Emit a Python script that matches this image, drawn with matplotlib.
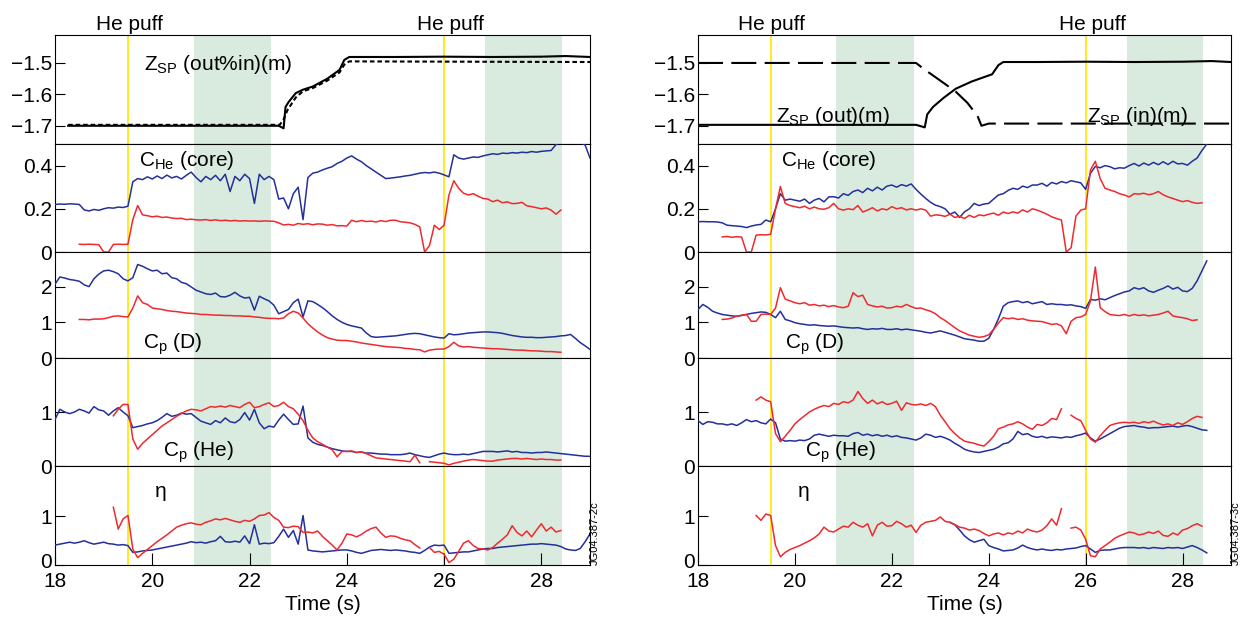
import numpy as np
import matplotlib.pyplot as plt
from matplotlib.transforms import blended_transform_factory, ScaledTranslation

plt.rcParams['font.family'] = ['Liberation Sans', 'DejaVu Sans']
plt.rcParams['mathtext.fontset'] = 'custom'
plt.rcParams['mathtext.rm'] = 'Liberation Sans'
plt.rcParams['axes.linewidth'] = 0.8

nan = float('nan')
STEP = 0.1

# ---------------- strike point positions (top panels) ----------------
zsp_L_solid_t = [18.27, 22.60, 22.70, 22.74, 22.80, 22.95, 23.10, 23.30, 23.60, 23.85, 23.95, 24.05, 25.0, 26.0, 27.0, 28.0, 28.5, 29.0]
zsp_L_solid = [-1.700, -1.700, -1.708, -1.640, -1.625, -1.596, -1.585, -1.575, -1.550, -1.522, -1.490, -1.481, -1.481, -1.480, -1.481, -1.480, -1.478, -1.481]
zsp_L_dot_t = [18.27, 22.62, 22.70, 22.78, 22.95, 23.10, 23.30, 23.60, 23.85, 23.95, 24.05, 29.0]
zsp_L_dot = [-1.697, -1.697, -1.680, -1.650, -1.610, -1.590, -1.580, -1.556, -1.530, -1.505, -1.495, -1.497]

zsp_R_out_t = [18.0, 22.50, 22.68, 22.73, 22.85, 23.07, 23.32, 23.65, 24.07, 24.20, 24.30, 25.0, 26.0, 27.0, 28.0, 28.6, 29.0]
zsp_R_out = [-1.697, -1.697, -1.705, -1.664, -1.640, -1.611, -1.582, -1.559, -1.536, -1.507, -1.497, -1.497, -1.496, -1.497, -1.496, -1.494, -1.497]
zsp_R_in_t = [18.0, 22.50, 22.65, 22.98, 23.31, 23.56, 23.77, 23.85, 24.0, 29.0]
zsp_R_in = [-1.500, -1.500, -1.518, -1.554, -1.590, -1.627, -1.669, -1.700, -1.693, -1.693]

# ---------------- left column (blue / red traces) ----------------
che_L_blue_t0 = 18.0
che_L_blue = [.220, .222, .221, .223, .222, .220, .195, .190, .197, .193,
              .200, .205, .203, .208, .206, .212, .325, .340, .335, .348,
              .338, .352, .340, .356, .343, .350, .338, .355, .370, .345,
              .325, .350, .335, .355, .330, .360, .280, .350, .330, .360,
              .340, .225, .360, .335, .350, .335, .245, .250, .200, .270,
              .300, .150, .345, .365, .370, .380, .388, .395, .410, .420,
              .435, .445, .430, .418, .400, .385, .370, .355, .340, .342,
              .345, .348, .352, .355, .360, .365, .368, .366, .370, .365,
              .357, .348, .450, .435, .430, .435, .440, .438, .445, .450,
              .455, .452, .458, .456, .460, .458, .462, .460, .465, .462,
              .466, .468, .470, .497, .510, .530, .540, .530, .510, .495,
              .435]
che_L_red_t0 = 18.5
che_L_red = [.036, .035, .036, .035, .034,
             .000, .000, .035, .036, .035, .036, .150, .215, .172, .168,
             .163, .166, .160, .162, .157, .155, .156, .150, .152, .149,
             .148, .150, .146, .149, .145, .147, .144, .146, .143, .145,
             .143, .144, .142, .144, .143, .142, .135, .125, .128, .124,
             .132, .128, .131, .126, .130, .129, .124, .127, .121, .122,
             .120, .147, .140, .146, .141, .143, .139, .145, .141, .147,
             .147, .140, .138, .135, .128, .116, .000, .030, .124, .104,
             .124, .264, .330, .295, .272, .264, .270, .258, .248, .245,
             .233, .240, .228, .232, .224, .225, .230, .214, .210, .205,
             .200, .204, .194, .175, .194]

cpd_L_blue_t0 = 18.0
cpd_L_blue = [2.07, 2.27, 2.24, 2.20, 2.18, 2.15, 2.05, 2.00, 2.22, 2.35,
              2.44, 2.46, 2.42, 2.36, 2.22, 2.16, 2.25, 2.62, 2.57, 2.50,
              2.44, 2.46, 2.36, 2.38, 2.25, 2.22, 2.12, 2.08, 1.99, 1.90,
              1.85, 1.80, 1.78, 1.82, 1.72, 1.71, 1.76, 1.84, 1.74, 1.68,
              1.70, 1.34, 1.73, 1.66, 1.60, 1.48, 1.24, 1.30, 1.36, 1.55,
              1.65, 1.15, 1.60, 1.58, 1.50, 1.41, 1.30, 1.18, 1.08, 1.00,
              0.94, 0.90, 0.87, 0.84, 0.70, 0.60, 0.58, 0.59, 0.60, 0.61,
              0.62, 0.64, 0.66, 0.68, 0.69, 0.68, 0.65, 0.62, 0.59, 0.57,
              0.56, 0.68, 0.65, 0.66, 0.68, 0.70, 0.71, 0.72, 0.73, 0.73,
              0.72, 0.71, 0.69, 0.66, 0.63, 0.61, 0.59, 0.58, 0.58, 0.57,
              0.57, 0.58, 0.59, 0.60, 0.62, 0.63, 0.66, 0.55, 0.43, 0.34,
              0.24]
cpd_L_red_t0 = 18.5
cpd_L_red = [1.08, 1.08, 1.07, 1.09, 1.09,
             1.10, 1.13, 1.17, 1.18, 1.16, 1.15, 1.40, 1.74, 1.55, 1.50,
             1.40, 1.38, 1.36, 1.33, 1.31, 1.30, 1.28, 1.26, 1.25, 1.24,
             1.22, 1.22, 1.21, 1.20, 1.20, 1.19, 1.19, 1.18, 1.18, 1.17,
             1.17, 1.15, 1.14, 1.12, 1.11, 1.11, 1.10, 1.12, 1.24, 1.31,
             1.26, 1.12, 0.96, 0.84, 0.73, 0.64, 0.57, 0.53, 0.50, 0.49,
             0.49, 0.47, 0.45, 0.42, 0.40, 0.38, 0.36, 0.34, 0.32, 0.31,
             0.30, 0.29, 0.27, 0.26, 0.24, 0.23, 0.17, 0.22, 0.24, 0.25,
             0.25, 0.32, 0.44, 0.34, 0.31, 0.32, 0.30, 0.29, 0.28, 0.27,
             0.26, 0.26, 0.25, 0.24, 0.23, 0.22, 0.22, 0.21, 0.20, 0.20,
             0.19, 0.18, 0.18, 0.17, 0.16]

cphe_L_blue_t0 = 18.0
cphe_L_blue = [0.86, 1.05, 1.00, 0.97, 1.00, 1.05, 1.02, 0.98, 1.10, 1.04,
               1.02, 0.94, 1.02, 1.08, 1.00, 0.93, 0.71, 0.73, 0.75, 0.78,
               0.80, 0.84, 0.90, 0.97, 0.92, 0.94, 0.98, 0.96, 0.97, 0.90,
               0.83, 0.80, 0.77, 0.84, 0.80, 0.89, 0.82, 0.80, 0.86, 0.99,
               0.85, 1.05, 0.80, 0.69, 0.74, 0.72, 0.85, 0.96, 0.86, 0.77,
               0.78, 1.11, 0.52, 0.44, 0.40, 0.38, 0.35, 0.32, 0.30, 0.28,
               0.27, 0.27, 0.25, 0.26, 0.24, 0.24, 0.23, 0.22, 0.22, 0.21,
               0.21, 0.21, 0.22, 0.24, 0.21, 0.19, 0.17, 0.16, 0.19, 0.22,
               0.24, 0.22, 0.21, 0.21, 0.22, 0.21, 0.23, 0.25, 0.27, 0.27,
               0.27, 0.26, 0.27, 0.28, 0.26, 0.27, 0.25, 0.25, 0.24, 0.25,
               0.25, 0.26, 0.25, 0.24, 0.23, 0.22, 0.21, 0.20, 0.19, 0.18,
               0.18]
cphe_L_red_t0 = 19.2
cphe_L_red = [0.93, 1.05, 1.14, 1.14, 0.50, 0.31, 0.42, 0.50,
              0.58, 0.66, 0.74, 0.80, 0.86, 0.92, 0.97, 1.02, 1.05, 1.04,
              1.02, 1.06, 1.10, 1.09, 1.11, 1.09, 1.12, 1.10, 1.08, 1.14,
              1.18, 1.08, 1.10, 1.14, 1.17, 1.10, 1.12, 1.18, 1.10, 1.06,
              0.96, 0.84, 0.66, 0.52, 0.45, 0.40, 0.35, 0.30, 0.17, 0.27,
              0.27, 0.28, 0.25, 0.26, 0.23, 0.19, 0.15, 0.14, 0.13, 0.12,
              0.11, 0.10, 0.09, 0.08, 0.20, 0.06, nan, 0.08, 0.07, 0.06,
              0.05, 0.02, 0.05, 0.07, 0.09, 0.11, 0.12, 0.11, 0.10, 0.09,
              0.09, 0.11, 0.12, 0.13, 0.14, 0.14, 0.13, 0.14, 0.13, 0.12,
              0.13, 0.12, 0.12, 0.11, 0.11]

eta_L_blue_t0 = 18.0
eta_L_blue = [0.41, 0.43, 0.45, 0.47, 0.45, 0.47, 0.50, 0.46, 0.43, 0.45,
              0.47, 0.44, 0.43, 0.41, 0.42, 0.40, 0.26, 0.27, 0.29, 0.30,
              0.31, 0.33, 0.35, 0.37, 0.39, 0.41, 0.43, 0.45, 0.48, 0.46,
              0.47, 0.45, 0.48, 0.50, 0.59, 0.48, 0.47, 0.49, 0.47, 0.60,
              0.44, 0.83, 0.43, 0.45, 0.44, 0.46, 0.59, 0.74, 0.57, 0.71,
              0.43, 1.02, 0.31, 0.29, 0.28, 0.27, 0.28, 0.29, 0.30, 0.31,
              0.31, 0.29, 0.26, 0.24, 0.27, 0.30, 0.31, 0.32, 0.31, 0.30,
              0.31, 0.30, 0.29, 0.27, 0.26, 0.24, 0.30, 0.37, 0.41, 0.40,
              0.41, 0.24, 0.25, 0.26, 0.27, 0.27, 0.29, 0.31, 0.33, 0.34,
              0.34, 0.36, 0.37, 0.38, 0.39, 0.40, 0.41, 0.42, 0.43, 0.43,
              0.44, 0.43, 0.42, 0.41, 0.38, 0.33, 0.31, 0.30, 0.34, 0.48,
              0.64]
eta_L_red_t0 = 19.2
eta_L_red = [1.19, 0.74, 0.95, 1.02, 0.33, 0.15, 0.24, 0.32,
             0.40, 0.48, 0.55, 0.62, 0.70, 0.78, 0.82, 0.85, 0.87, 0.84,
             0.83, 0.88, 0.91, 0.95, 0.93, 0.96, 0.93, 0.90, 0.88, 0.92,
             0.90, 0.95, 1.02, 1.03, 1.08, 0.98, 0.92, 0.78, 0.77, 0.80,
             0.79, 0.67, 0.68, 0.66, 0.70, 0.59, 0.50, 0.41, 0.31, 0.45,
             0.64, 0.62, 0.58, 0.63, 0.70, 0.75, 0.78, 0.66, 0.57, 0.60,
             0.59, 0.55, 0.52, 0.50, 0.42, 0.35, nan, 0.36, 0.26, 0.28,
             0.22, 0.05, 0.12, 0.28, 0.45, 0.50, 0.40, 0.34, 0.33, 0.31,
             0.36, 0.45, 0.53, 0.62, 0.81, 0.67, 0.60, 0.70, 0.58, 0.72,
             0.85, 0.70, 0.78, 0.68, 0.71]

# ---------------- right column (blue / red traces) ----------------
che_R_blue_t0 = 18.0
che_R_blue = [.140, .141, .140, .140, .139, .135, .124, .122, .120, .118,
              .113, .120, .125, .128, .148, .140, .200, .270, .240, .245,
              .240, .235, .245, .225, .240, .248, .232, .255, .256, .250,
              .270, .262, .280, .287, .275, .295, .283, .300, .287, .305,
              .310, .300, .312, .305, .315, .290, .268, .248, .230, .217,
              .210, .200, .175, .185, .160, .186, .200, .225, .215, .222,
              .225, .245, .264, .270, .285, .295, .290, .305, .298, .310,
              .310, .318, .305, .322, .315, .326, .320, .330, .325, .320,
              .290, .365, .396, .390, .400, .395, .385, .390, .388, .400,
              .410, .398, .412, .402, .415, .404, .418, .405, .420, .408,
              .410, .402, .420, .435, .470, .500]
che_R_red_t0 = 18.5
che_R_red = [.070, .072, .068, .071, .069,
             .000, .000, .078, .080, .079, .082, .200, .303, .225, .215,
             .210, .205, .212, .200, .208, .200, .198, .205, .225, .200,
             .194, .200, .196, .215, .185, .194, .205, .190, .200, .195,
             .210, .200, .205, .195, .200, .194, .200, .194, .166, .172,
             .170, .165, .175, .160, .165, .155, .170, .160, .172, .168,
             .175, .180, .170, .185, .178, .186, .180, .195, .185, .200,
             .194, .185, .175, .163, .155, .148, .000, .020, .166, .194,
             .200, .380, .420, .340, .295, .287, .280, .270, .264, .255,
             .270, .268, .272, .265, .270, .280, .265, .255, .248, .240,
             .233, .238, .230, .225, .228]

cpd_R_blue_t0 = 18.0
cpd_R_blue = [1.36, 1.50, 1.42, 1.31, 1.26, 1.22, 1.20, 1.18, 1.17, 1.19,
              1.22, 1.25, 1.27, 1.29, 1.28, 1.22, 1.13, 1.31, 1.08, 1.04,
              0.99, 0.96, 0.94, 0.92, 0.93, 0.91, 0.90, 0.89, 0.90, 0.88,
              0.86, 0.85, 0.84, 0.85, 0.82, 0.80, 0.82, 0.81, 0.83, 0.80,
              0.80, 0.82, 0.79, 0.81, 0.79, 0.77, 0.75, 0.72, 0.70, 0.73,
              0.76, 0.72, 0.68, 0.64, 0.59, 0.54, 0.52, 0.50, 0.47, 0.47,
              0.55, 0.80, 1.10, 1.45, 1.55, 1.58, 1.60, 1.55, 1.58, 1.52,
              1.55, 1.58, 1.50, 1.52, 1.50, 1.50, 1.48, 1.49, 1.46, 1.44,
              1.39, 1.64, 1.62, 1.66, 1.63, 1.69, 1.75, 1.80, 1.85, 1.88,
              1.97, 1.93, 1.97, 1.88, 1.84, 1.90, 1.95, 2.02, 1.93, 1.98,
              1.88, 1.86, 1.95, 2.16, 2.44, 2.72]
cpd_R_red_t0 = 18.5
cpd_R_red = [1.08, 1.09, 1.12, 1.17, 1.20,
             1.22, 1.03, 1.03, 1.22, 1.23, 1.22, 1.40, 1.97, 1.65, 1.60,
             1.55, 1.52, 1.55, 1.48, 1.50, 1.46, 1.48, 1.44, 1.47, 1.43,
             1.41, 1.45, 1.83, 1.72, 1.76, 1.50, 1.46, 1.43, 1.45, 1.40,
             1.41, 1.45, 1.43, 1.50, 1.44, 1.39, 1.40, 1.35, 1.31, 1.24,
             1.13, 1.05, 0.95, 0.85, 0.76, 0.70, 0.64, 0.61, 0.58, 0.60,
             0.65, 0.80, 0.98, 1.13, 1.10, 1.12, 1.08, 1.10, 1.06, 1.04,
             1.03, 1.02, 0.98, 0.94, 0.96, 0.90, 0.68, 1.03, 1.13, 1.15,
             1.22, 1.60, 2.55, 1.41, 1.30, 1.22, 1.20, 1.19, 1.22, 1.18,
             1.22, 1.19, 1.21, 1.18, 1.20, 1.22, 1.26, 1.31, 1.18, 1.15,
             1.13, 1.10, 1.05, 1.07]

cphe_R_blue_t0 = 18.0
cphe_R_blue = [0.84, 0.77, 0.82, 0.81, 0.78, 0.78, 0.76, 0.78, 0.75, 0.80,
               0.86, 0.82, 0.84, 0.80, 0.78, 0.87, 0.80, 0.50, 0.46, 0.47,
               0.46, 0.48, 0.47, 0.50, 0.57, 0.59, 0.57, 0.55, 0.57, 0.56,
               0.56, 0.55, 0.60, 0.62, 0.57, 0.59, 0.56, 0.58, 0.55, 0.57,
               0.54, 0.56, 0.53, 0.52, 0.50, 0.48, 0.52, 0.59, 0.57, 0.53,
               0.55, 0.52, 0.48, 0.42, 0.37, 0.31, 0.28, 0.26, 0.25, 0.27,
               0.29, 0.31, 0.35, 0.41, 0.43, 0.50, 0.64, 0.58, 0.60, 0.55,
               0.53, 0.55, 0.52, 0.54, 0.53, 0.52, 0.54, 0.53, 0.56, 0.58,
               0.61, 0.52, 0.46, 0.50, 0.55, 0.60, 0.65, 0.70, 0.73, 0.74,
               0.75, 0.73, 0.72, 0.70, 0.71, 0.71, 0.72, 0.73, 0.74, 0.72,
               0.74, 0.75, 0.73, 0.70, 0.67, 0.66]
cphe_R_red_t0 = 19.2
cphe_R_red = [1.22, 1.28, 1.22, 1.19, 0.60, 0.45, 0.55, 0.66,
              0.78, 0.86, 0.93, 1.00, 1.05, 1.09, 1.12, 1.10, 1.16, 1.14,
              1.19, 1.17, 1.22, 1.38, 1.25, 1.16, 1.22, 1.15, 1.19, 1.14,
              1.16, 1.20, 1.03, 1.17, 1.14, 1.13, 1.15, 1.12, 1.16, 1.10,
              0.94, 0.82, 0.69, 0.60, 0.52, 0.46, 0.44, 0.42, 0.39, 0.37,
              0.45, 0.55, 0.69, 0.72, 0.76, 0.78, 0.82, 0.78, 0.72, 0.68,
              0.77, 0.75, 0.80, 0.88, 0.86, 1.06, nan, 0.94, 0.88, 0.84,
              0.66, 0.50, 0.44, 0.56, 0.66, 0.75, 0.78, 0.80, 0.81, 0.80,
              0.81, 0.79, 0.82, 0.80, 0.83, 0.79, 0.76, 0.78, 0.75, 0.80,
              0.77, 0.82, 0.88, 0.92, 0.90]

eta_R_blue_t0 = 23.2
eta_R_blue = [0.88, 0.83, 0.72, 0.60, 0.52, 0.47, 0.50, 0.53,
              0.40, 0.36, 0.33, 0.29, 0.30, 0.31, 0.35, 0.41, 0.36, 0.33,
              0.31, 0.33, 0.31, 0.30, 0.32, 0.31, 0.33, 0.34, 0.35, 0.38,
              0.40, 0.33, 0.26, 0.30, 0.31, 0.31, 0.33, 0.35, 0.36, 0.36,
              0.36, 0.35, 0.36, 0.34, 0.36, 0.35, 0.34, 0.36, 0.35, 0.36,
              0.34, 0.37, 0.40, 0.36, 0.31, 0.25]
eta_R_red_t0 = 19.2
eta_R_red = [1.02, 0.92, 1.05, 1.02, 0.40, 0.17, 0.26, 0.32,
             0.36, 0.40, 0.45, 0.50, 0.56, 0.64, 0.78, 0.70, 0.68, 0.74,
             0.80, 0.78, 0.88, 0.82, 0.78, 0.85, 0.60, 0.82, 0.88, 0.80,
             0.81, 0.90, 0.85, 0.78, 0.82, 0.67, 0.82, 0.88, 0.90, 0.92,
             0.99, 0.90, 0.88, 0.83, 0.78, 0.76, 0.72, 0.74, 0.71, 0.65,
             0.60, 0.64, 0.66, 0.62, 0.66, 0.64, 0.70, 0.66, 0.74, 0.70,
             0.68, 0.72, 0.81, 0.95, 0.82, 1.16, nan, 0.76, 0.78, 0.72,
             0.53, 0.19, 0.17, 0.33, 0.40, 0.47, 0.55, 0.60, 0.64, 0.68,
             0.66, 0.62, 0.64, 0.68, 0.65, 0.70, 0.61, 0.59, 0.66, 0.62,
             0.72, 0.75, 0.81, 0.85, 0.80]

# events and analysis windows
puff_times = [19.5, 26.0]
windows = [(20.85, 22.45), (26.85, 28.43)]

BLUE = '#24309a'
RED = '#ee2a2f'
GREEN = '#d9eade'
YELLOW = '#ffe600'
FS = 15

W, H = 1242, 618
rows_px = [35, 144, 252, 358, 466, 565]
cols_px = [(55, 590), (698, 1231)]

ylims = [(-1.758, -1.411), (0, 0.5), (0, 2.97), (0, 2.0), (0, 2.04)]
yticks = [[-1.7, -1.6, -1.5], [0, 0.2, 0.4], [0, 1, 2], [0, 1], [0, 1]]
yticklabels = [['\u22121.7', '\u22121.6', '\u22121.5'], ['0', '0.2', '0.4'],
               ['0', '1', '2'], ['0', '1'], ['0', '1']]


def times(t0, vals):
    return t0 + STEP * np.arange(len(vals))


columns = [
    dict(pairs=[(che_L_blue_t0, che_L_blue, che_L_red_t0, che_L_red),
                (cpd_L_blue_t0, cpd_L_blue, cpd_L_red_t0, cpd_L_red),
                (cphe_L_blue_t0, cphe_L_blue, cphe_L_red_t0, cphe_L_red),
                (eta_L_blue_t0, eta_L_blue, eta_L_red_t0, eta_L_red)],
         top=[(zsp_L_solid_t, zsp_L_solid, '-'), (zsp_L_dot_t, zsp_L_dot, (0, (2.2, 1.4)))],
         toplabels=[(19.82, -1.5215, r'Z$_\mathregular{SP}$ (out%in)(m)')],
         labelx=[19.72, 19.81, 20.22, 20.06],
         puffx=[19.53, 26.14],
         code='JG04.387-2c'),
    dict(pairs=[(che_R_blue_t0, che_R_blue, che_R_red_t0, che_R_red),
                (cpd_R_blue_t0, cpd_R_blue, cpd_R_red_t0, cpd_R_red),
                (cphe_R_blue_t0, cphe_R_blue, cphe_R_red_t0, cphe_R_red),
                (eta_R_blue_t0, eta_R_blue, eta_R_red_t0, eta_R_red)],
         top=[(zsp_R_out_t, zsp_R_out, '-'), (zsp_R_in_t, zsp_R_in, (0, (12, 4)))],
         toplabels=[(19.6, -1.688, r'Z$_\mathregular{SP}$ (out)(m)'),
                    (26.02, -1.688, r'Z$_\mathregular{SP}$ (in)(m)')],
         labelx=[19.72, 19.79, 20.21, 20.06],
         puffx=[19.52, 26.15],
         code='JG04.387-3c'),
]
panel_text = [r'C$_\mathregular{He}$ (core)', r'C$_\mathregular{p}$ (D)',
              r'C$_\mathregular{p}$ (He)', '\u03b7']
panel_text_y = [0.396, 0.28, 0.175, 1.40]

fig = plt.figure(figsize=(W / 100, H / 100), dpi=100)

for ci, col in enumerate(columns):
    x0, x1 = cols_px[ci]
    axes = []
    for r in range(5):
        yt, yb = rows_px[r], rows_px[r + 1]
        ax = fig.add_axes([x0 / W, 1 - yb / H, (x1 - x0) / W, (yb - yt) / H])
        ax.set_xlim(18, 29)
        ax.set_ylim(*ylims[r])
        for a, b in windows:
            ax.axvspan(a, b, color=GREEN, lw=0, zorder=0)
        for p in puff_times:
            ax.axvline(p, color=YELLOW, lw=1.2, zorder=1)
        ax.set_yticks(yticks[r])
        ax.set_yticklabels(yticklabels[r])
        ax.tick_params(axis='y', direction='in', length=7, width=0.8, pad=2,
                       labelsize=FS, right=False)
        if r < 4:
            ax.tick_params(axis='x', bottom=False, labelbottom=False)
        axes.append(ax)

    # strike point panel
    ax = axes[0]
    for t, z, ls in col['top']:
        ax.plot(t, z, color='black', lw=1.5, linestyle=ls, zorder=3)
    for x, y, s in col['toplabels']:
        ax.text(x, y, s, fontsize=FS, ha='left', va='baseline', zorder=4)
    tr = blended_transform_factory(ax.transData, ax.transAxes)
    for x in col['puffx']:
        ax.text(x, 1.046, 'He puff', fontsize=FS, ha='center', va='baseline',
                transform=tr)

    # blue / red traces
    for r, (bt0, bv, rt0, rv) in enumerate(col['pairs']):
        ax = axes[r + 1]
        ax.plot(times(bt0, bv), bv, color=BLUE, lw=1.1, zorder=3)
        ax.plot(times(rt0, rv), rv, color=RED, lw=1.1, zorder=3)
        ax.text(col['labelx'][r], panel_text_y[r], panel_text[r], fontsize=FS,
                ha='left', va='baseline', zorder=4)

    ax = axes[-1]
    ax.set_xticks([18, 20, 22, 24, 26, 28])
    ax.tick_params(axis='x', direction='in', length=9, width=0.8, pad=5,
                   labelsize=FS, top=False)
    # lift the bottom "0" a little so it clears the time labels
    zero = ax.get_yticklabels()[0]
    zero.set_transform(zero.get_transform() + ScaledTranslation(0, 0.05, fig.dpi_scale_trans))
    fig.text((x0 + x1) / 2 / W, 1 - 605 / H, 'Time (s)', fontsize=FS,
             ha='center', va='center')
    fig.text((x1 + 5) / W, 1 - 565 / H, col['code'], fontsize=8,
             rotation=90, ha='center', va='bottom')

fig.savefig('out.png', dpi=100)
